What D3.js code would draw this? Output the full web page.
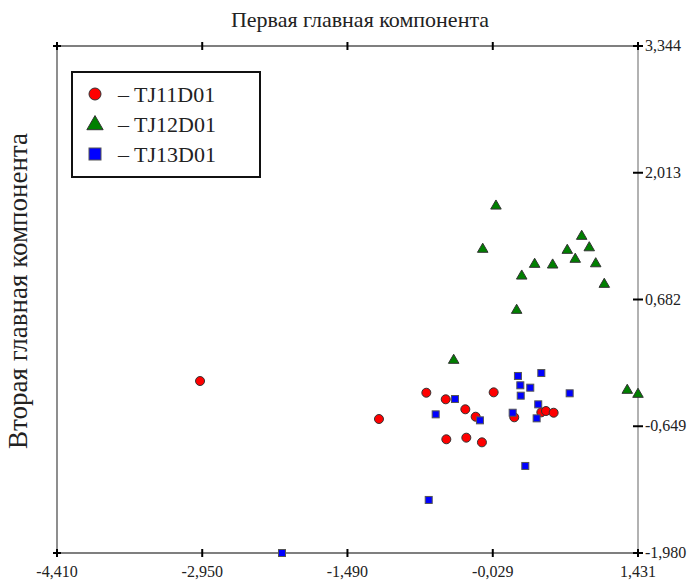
<!DOCTYPE html>
<html>
<head>
<meta charset="utf-8">
<script src="https://cdn.jsdelivr.net/npm/d3@7"></script>
<style>
  body { margin: 0; background: #fff; }
</style>
</head>
<body>
<div id="chart"></div>
<script>
const xTicks = [-4.410, -2.950, -1.490, -0.029, 1.431]
const yTicks = [3.344, 2.013, 0.682, -0.649, -1.980]
const seriesNames = ["TJ11D01", "TJ12D01", "TJ13D01"]

// TJ11D01 (red circles)
const tj11 = [
  [-2.972, -0.174], [-1.173, -0.573], [-0.697, -0.297], [-0.502, -0.366],
  [-0.305, -0.471], [-0.201, -0.549], [-0.020, -0.293], [0.187, -0.555],
  [0.459, -0.503], [0.506, -0.489], [0.583, -0.507], [-0.496, -0.786],
  [-0.295, -0.769], [-0.138, -0.818]
]
// TJ12D01 (green triangles)
const tj12 = [
  [0.003, 1.674], [-0.130, 1.220], [0.865, 1.356], [0.720, 1.209],
  [0.941, 1.236], [0.800, 1.115], [0.392, 1.062], [0.573, 1.055],
  [1.006, 1.068], [0.262, 0.939], [1.092, 0.852], [0.211, 0.579],
  [-0.422, 0.054], [1.323, -0.261], [1.431, -0.303]
]
// TJ13D01 (blue squares)
const tj13 = [
  [0.224, -0.121], [0.459, -0.090], [0.248, -0.219], [0.348, -0.244],
  [0.744, -0.303], [0.252, -0.328], [-0.409, -0.363], [-0.603, -0.524],
  [-0.158, -0.587], [0.171, -0.507], [0.428, -0.419], [0.412, -0.566],
  [0.298, -1.066], [-0.673, -1.423], [-2.148, -1.980]
]

const width = 693
const height = 582
const pLeft = 57, pRight = 638, pTop = 46, pBottom = 553
const serif = "'Liberation Serif', 'Times New Roman', 'DejaVu Serif', serif"

const svg = d3.select("#chart")
  .append("svg")
  .attr("width", width)
  .attr("height", height)
  .style("font-family", serif)

const x = d3.scaleLinear().domain([-4.410, 1.431]).range([pLeft, pRight])
const y = d3.scaleLinear().domain([-1.980, 3.344]).range([pBottom, pTop])

const fmt = v => v.toFixed(3).replace(".", ",")

// frame lines
svg.append("line").attr("x1", pLeft).attr("x2", pRight).attr("y1", pTop).attr("y2", pTop)
  .attr("stroke", "#555").attr("stroke-width", 1.5)
svg.append("line").attr("x1", pLeft).attr("x2", pRight).attr("y1", pBottom).attr("y2", pBottom)
  .attr("stroke", "#555").attr("stroke-width", 1.5)
svg.append("line").attr("x1", pLeft).attr("x2", pLeft).attr("y1", pTop).attr("y2", pBottom)
  .attr("stroke", "#444").attr("stroke-width", 1.2)
svg.append("line").attr("x1", pRight).attr("x2", pRight).attr("y1", pTop).attr("y2", pBottom)
  .attr("stroke", "#999").attr("stroke-width", 1.5)

// ticks on top and bottom
;[pTop, pBottom].forEach(yy => {
  svg.append("g").selectAll("line")
    .data(xTicks)
    .enter().append("line")
    .attr("x1", d => x(d)).attr("x2", d => x(d))
    .attr("y1", yy - 4).attr("y2", yy + 4)
    .attr("stroke", "#000").attr("stroke-width", 2)
})

// ticks on the right
svg.append("g").selectAll("line")
  .data(yTicks)
  .enter().append("line")
  .attr("x1", pRight - 5).attr("x2", pRight + 5)
  .attr("y1", d => y(d)).attr("y2", d => y(d))
  .attr("stroke", "#000").attr("stroke-width", 2)

// corner crosses
;[[pLeft, pTop], [pRight, pTop], [pLeft, pBottom], [pRight, pBottom]].forEach(([cx, cy]) => {
  svg.append("line").attr("x1", cx - 4).attr("x2", cx + 4).attr("y1", cy).attr("y2", cy)
    .attr("stroke", "#000").attr("stroke-width", 2)
})

// tick labels
svg.append("g").selectAll("text")
  .data(xTicks)
  .enter().append("text")
  .attr("x", d => x(d))
  .attr("y", 577)
  .attr("text-anchor", "middle")
  .attr("font-size", "16px")
  .attr("fill", "#222")
  .text(fmt)

svg.append("g").selectAll("text")
  .data(yTicks)
  .enter().append("text")
  .attr("x", pRight + 7)
  .attr("y", d => y(d) + 5)
  .attr("font-size", "16px")
  .attr("fill", "#222")
  .text(fmt)

// axis titles
svg.append("text")
  .attr("x", 360).attr("y", 27)
  .attr("text-anchor", "middle")
  .attr("font-size", "22px")
  .attr("fill", "#222")
  .text("Первая главная компонента")

svg.append("text")
  .attr("transform", "translate(27, 291) rotate(-90)")
  .attr("text-anchor", "middle")
  .attr("font-size", "27px")
  .attr("fill", "#222")
  .text("Вторая главная компонента")

// markers
const tri = d3.symbol().type(d3.symbolTriangle).size(48)

svg.append("g").selectAll("circle")
  .data(tj11)
  .enter().append("circle")
  .attr("cx", d => x(d[0]))
  .attr("cy", d => y(d[1]))
  .attr("r", 4.5)
  .attr("fill", "#ff0000")
  .attr("stroke", "#333")
  .attr("stroke-width", 1)

svg.append("g").selectAll("path")
  .data(tj12)
  .enter().append("path")
  .attr("d", tri)
  .attr("transform", d => `translate(${x(d[0])},${y(d[1]) + 1})`)
  .attr("fill", "#008000")
  .attr("stroke", "#333")
  .attr("stroke-width", 1)

svg.append("g").selectAll("rect")
  .data(tj13)
  .enter().append("rect")
  .attr("x", d => x(d[0]) - 3.5)
  .attr("y", d => y(d[1]) - 3.5)
  .attr("width", 7)
  .attr("height", 7)
  .attr("fill", "#0000ff")
  .attr("stroke", "#555")
  .attr("stroke-width", 1)

// legend
svg.append("rect")
  .attr("x", 72).attr("y", 72)
  .attr("width", 188).attr("height", 105)
  .attr("fill", "#fff")
  .attr("stroke", "#111")
  .attr("stroke-width", 2)

const legendRows = [
  { name: seriesNames[0], color: "#ff0000", shape: "circle" },
  { name: seriesNames[1], color: "#008000", shape: "triangle" },
  { name: seriesNames[2], color: "#0000ff", shape: "square" }
]

legendRows.forEach((item, i) => {
  const cy = 94 + i * 30
  const row = svg.append("g")
  if (item.shape === "circle") {
    row.append("circle").attr("cx", 95).attr("cy", cy).attr("r", 6)
      .attr("fill", item.color).attr("stroke", "#333").attr("stroke-width", 1)
  } else if (item.shape === "triangle") {
    row.append("path").attr("d", d3.symbol().type(d3.symbolTriangle).size(115))
      .attr("transform", `translate(95,${cy + 1})`)
      .attr("fill", item.color).attr("stroke", "#333").attr("stroke-width", 1)
  } else {
    row.append("rect").attr("x", 89).attr("y", cy - 6).attr("width", 12).attr("height", 12)
      .attr("fill", item.color).attr("stroke", "#555").attr("stroke-width", 1)
  }
  row.append("text")
    .attr("x", 118)
    .attr("y", cy + 8)
    .attr("font-size", "22px")
    .attr("fill", "#222")
    .text("– " + item.name)
})
</script>
</body>
</html>
